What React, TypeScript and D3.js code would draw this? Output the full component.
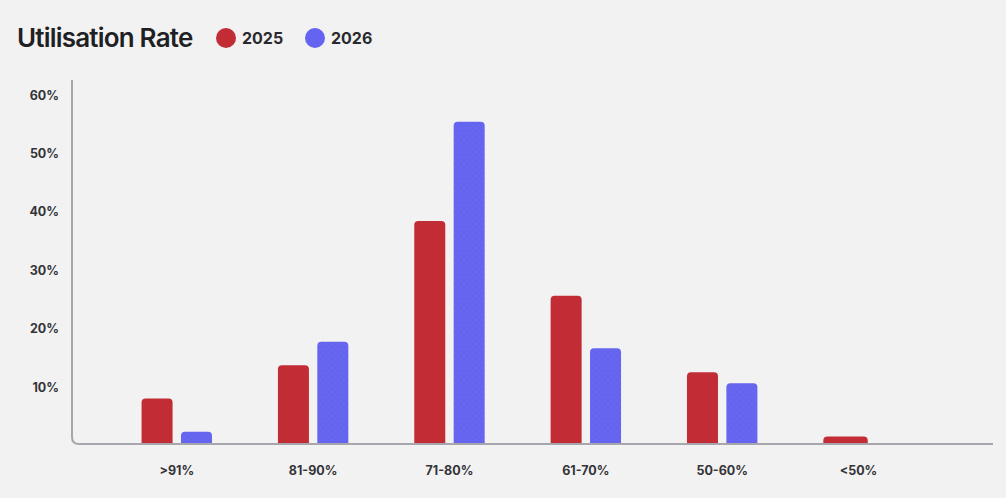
import React from "react";
import * as d3 from "d3";

const categories = [">91%", "81-90%", "71-80%", "61-70%", "50-60%", "<50%"];
const values2025: (number | null)[] = [7.8, 13.5, 38.2, 25.4, 12.3, 1.3];
const values2026: (number | null)[] = [2.1, 17.5, 55.2, 16.4, 10.4, null];
const yTicks = [10, 20, 30, 40, 50, 60];
const seriesNames = ["2025", "2026"];
const seriesColors = ["#c22c35", "#6464f0"];

const W = 1006;
const H = 498;

function topRoundedRect(x: number, y: number, w: number, h: number, r: number) {
  const rr = Math.min(r, h, w / 2);
  const p = d3.path();
  p.moveTo(x, y + h);
  p.lineTo(x, y + rr);
  p.arcTo(x, y, x + rr, y, rr);
  p.lineTo(x + w - rr, y);
  p.arcTo(x + w, y, x + w, y + rr, rr);
  p.lineTo(x + w, y + h);
  p.closePath();
  return p.toString();
}

export default function App() {
  const x = d3.scaleBand<string>().domain(categories).range([108.6, 926.7]).padding(0);
  const y = d3.scaleLinear().domain([0, 60]).range([444, 93.6]);
  const barW = 31;
  const gap = 8.4;

  const axisX = 72;
  const axisY = 444;
  const axisTop = 80;
  const axisRight = 993;
  const cr = 7;
  const axisPath = `M${axisX},${axisTop} L${axisX},${axisY - cr} Q${axisX},${axisY} ${axisX + cr},${axisY} L${axisRight},${axisY}`;

  const bars: { key: string; d: string; fill: string; pattern: boolean }[] = [];
  categories.forEach((c, i) => {
    const cx = (x(c) as number) + x.bandwidth() / 2;
    const a = values2025[i];
    const b = values2026[i];
    if (a != null) {
      const w = b == null ? barW * 2 + gap - 26 : barW;
      const x0 = cx - gap / 2 - barW;
      bars.push({ key: `a${i}`, d: topRoundedRect(x0, y(a), w, y(0) - y(a), 4), fill: seriesColors[0], pattern: false });
    }
    if (b != null) {
      const x0 = cx + gap / 2;
      bars.push({ key: `b${i}`, d: topRoundedRect(x0, y(b), barW, y(0) - y(b), 4), fill: seriesColors[1], pattern: true });
    }
  });

  const font = "Inter, 'Noto Sans', sans-serif";

  return (
    <svg width={W} height={H} style={{ position: "fixed", left: 0, top: 0, background: "#f2f2f2" }}>
      <defs>
        <pattern id="dots" width="6" height="6" patternUnits="userSpaceOnUse">
          <circle cx="2" cy="2" r="0.6" fill="#8a8ad0" opacity="0.7" />
          <circle cx="5" cy="5" r="0.5" fill="#8a8ad0" opacity="0.5" />
        </pattern>
      </defs>
      <rect width={W} height={H} fill="#f2f2f2" />
      <text x={17} y={47} fontFamily={font} fontWeight={600} fontSize={26} fill="#1f1f24" letterSpacing={-0.8}>
        Utilisation Rate
      </text>
      {seriesNames.map((s, i) => (
        <g key={s} transform={`translate(${226 + i * 89},38)`}>
          <circle r={10} fill={seriesColors[i]} />
          <text x={16} y={6} fontFamily={font} fontWeight={700} fontSize={16} fill="#2a2a2e">
            {s}
          </text>
        </g>
      ))}
      {yTicks.map((t) => (
        <text key={t} x={59} y={y(t) + 6} textAnchor="end" fontFamily={font} fontWeight={700} fontSize={12.5} fill="#333338">
          {t}%
        </text>
      ))}
      {bars.map((b) => (
        <g key={b.key}>
          <path d={b.d} fill={b.fill} />
          {b.pattern && <path d={b.d} fill="url(#dots)" />}
        </g>
      ))}
      <path d={axisPath} fill="none" stroke="#a6a6ac" strokeWidth={2} />
      {categories.map((c) => (
        <text key={c} x={(x(c) as number) + x.bandwidth() / 2} y={475} textAnchor="middle" fontFamily={font} fontWeight={700} fontSize={12.5} fill="#333338">
          {c}
        </text>
      ))}
    </svg>
  );
}
